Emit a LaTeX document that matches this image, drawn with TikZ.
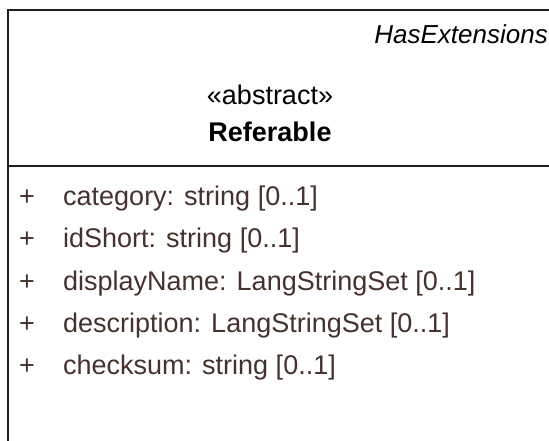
\documentclass[tikz,border=0pt]{standalone}
\usepackage{fontspec}
\setmainfont{Liberation Sans}
\definecolor{attr}{RGB}{70,50,45}
\definecolor{framec}{RGB}{30,30,30}
\begin{document}
\begin{tikzpicture}[x=1pt,y=-1pt,
  frame/.style={line width=2pt,draw=framec},
  txt/.style={inner sep=0pt,text height=19pt,text depth=6pt,font=\fontsize{27}{32}\selectfont},
  attrtxt/.style={txt,anchor=west,text=attr},
  plustxt/.style={txt,anchor=center,text=attr}]
\useasboundingbox (0,0) rectangle (549,441);
\fill[white] (0,0) rectangle (549,441);
\coordinate (tl) at (8,10);
\coordinate (tr) at (549,10);
\coordinate (bl) at (8,441);
\coordinate (dl) at (8,166);
\coordinate (dr) at (549,166);
\draw[frame] (tr) -- (tl) -- (bl);
\draw[frame,line width=1.6pt] (dl) -- (dr);
\node[txt,anchor=east,font=\itshape\fontsize{26}{30}\selectfont] (ext) at (548,37) {HasExtensions};
\node[txt,anchor=center] (stereo) at (270,98) {«abstract»};
\node[txt,anchor=center,font=\bfseries\fontsize{27}{32}\selectfont] (name) at (270,135) {Referable};
\foreach \i/\t [count=\k from 0] in {a/{category: string [0..1]},b/{idShort: string [0..1]},c/{displayName: LangStringSet [0..1]},d/{description: LangStringSet [0..1]},e/{checksum: string [0..1]}}{
  \node[plustxt] (p\i) at (27,199+42.3*\k) {+};
  \node[attrtxt] (t\i) at (63,199+42.3*\k) {\t};
}
\end{tikzpicture}
\end{document}
